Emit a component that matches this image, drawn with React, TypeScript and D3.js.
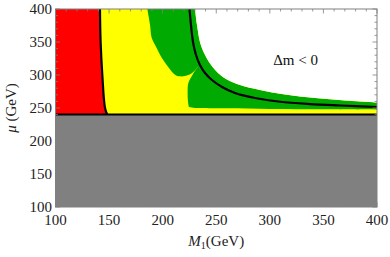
import * as d3 from 'd3'

// axis ticks
const X_TICKS = [100, 150, 200, 250, 300, 350, 400]
const Y_TICKS = [100, 150, 200, 250, 300, 350, 400]
const MINOR = d3.range(100, 401, 10)

// excluded region below this mu
const MU_CUT = 240

// left contour (red | yellow), [M1, mu]
const LEFT_CURVE: [number, number][] = [
  [141.5, 400], [142.1, 350], [143.7, 300], [146.2, 250], [148.3, 240],
]

// right contour
const RIGHT_CURVE: [number, number][] = [
  [225, 400], [226.4, 376], [228.3, 350], [231.1, 330.3], [234.8, 315.2],
  [239.5, 303], [246, 292.4], [255.4, 281.8], [267.5, 272.7], [286.2, 265.2],
  [309.5, 259.5], [337.5, 256], [365.5, 253.8], [400, 251.5],
]

// yellow / green edge of the middle blob, top down to the wedge tip
const BLOB_EDGE: [number, number][] = [
  [185.7, 400], [188.2, 376], [189.8, 356], [194.4, 341], [199.1, 326],
  [205, 312.6], [211.5, 300.5], [216, 298], [220.8, 298.5], [227.1, 302.6],
  [231.5, 310], [233.2, 313.5],
]

// left edge of the lower green band, from the wedge tip down
const LOWER_EDGE: [number, number][] = [
  [233.2, 313.5], [227.1, 298], [223.9, 287.4], [223.3, 272.3],
  [223.6, 260], [224.5, 251.5],
]

// bottom of the green band
const GREEN_BOTTOM: [number, number][] = [
  [230, 250], [260, 249.5], [300, 248.5], [350, 248], [400, 247.5],
]

// green / white edge (Δm < 0 above)
const WHITE_EDGE: [number, number][] = [
  [230.2, 400], [232, 376], [234.8, 350], [238.6, 333.3], [243.2, 319.7],
  [249.8, 306.1], [259.1, 294], [272.2, 284.8], [290.8, 277.3], [314.2, 270.5],
  [342.2, 265.2], [370.1, 261.4], [400, 258.3],
]

const W = 390
const H = 257
const M = { left: 55.5, right: 377, top: 9, bottom: 207 }

export default function App() {
  const x = d3.scaleLinear().domain([100, 400]).range([M.left, M.right])
  const y = d3.scaleLinear().domain([100, 400]).range([M.bottom, M.top])
  const line = d3.line<[number, number]>().x(d => x(d[0])).y(d => y(d[1]))
  const smooth = d3.line<[number, number]>().x(d => x(d[0])).y(d => y(d[1])).curve(d3.curveCatmullRom)

  // join smooth edges into one closed outline
  const outline = (...parts: [number, number][][]) =>
    parts.map((p, i) => (p.length > 2 ? smooth(p)! : line(p)!).replace(/^M/, i ? 'L' : 'M')).join('') + 'Z'

  const redPath = outline([[100, MU_CUT], [100, 400]], LEFT_CURVE)
  const greenPath = outline(BLOB_EDGE, LOWER_EDGE, GREEN_BOTTOM, WHITE_EDGE.slice().reverse())
  const whitePath = outline(WHITE_EDGE, [[400, 400]])

  const serif = '"Liberation Serif", "DejaVu Serif", serif'
  const frame = '#808080'
  const pw = M.right - M.left
  const ph = M.bottom - M.top

  return (
    <svg width={W} height={H} style={{ position: 'absolute', left: 0, top: 0 }} fontFamily={serif}>
      <defs>
        <clipPath id="plot">
          <rect x={M.left} y={M.top} width={pw} height={ph} />
        </clipPath>
      </defs>
      <g clipPath="url(#plot)">
        <rect x={x(100)} y={y(400)} width={pw} height={y(MU_CUT) - y(400)} fill="#ffff00" />
        <path d={redPath} fill="#ff0000" />
        <path d={greenPath} fill="#00aa00" />
        <path d={whitePath} fill="#ffffff" />
        <path d={smooth(LEFT_CURVE)!} fill="none" stroke="#000" strokeWidth={2.2} />
        <path d={smooth(RIGHT_CURVE)!} fill="none" stroke="#000" strokeWidth={2.2} />
        <rect x={x(100)} y={y(MU_CUT)} width={pw} height={y(100) - y(MU_CUT)} fill="#808080" />
        <line x1={x(100)} x2={x(400)} y1={y(MU_CUT)} y2={y(MU_CUT)} stroke="#000" strokeWidth={2} />
      </g>

      {/* frame and ticks */}
      <rect x={M.left} y={M.top} width={pw} height={ph} fill="none" stroke={frame} strokeWidth={1} />
      {MINOR.map(v => {
        const len = v % 50 === 0 ? 4.5 : 2.5
        return (
          <g key={v} stroke={frame} strokeWidth={0.8}>
            <line x1={x(v)} x2={x(v)} y1={M.bottom} y2={M.bottom - len} />
            <line x1={x(v)} x2={x(v)} y1={M.top} y2={M.top + len} />
            <line x1={M.left} x2={M.left + len} y1={y(v)} y2={y(v)} />
            <line x1={M.right} x2={M.right - len} y1={y(v)} y2={y(v)} />
          </g>
        )
      })}
      {X_TICKS.map(v => (
        <text key={v} x={x(v)} y={225} textAnchor="middle" fontSize={15} fill="#222">{v}</text>
      ))}
      {Y_TICKS.map(v => (
        <text key={v} x={M.left - 3.5} y={y(v) + 5} textAnchor="end" fontSize={15} fill="#222">{v}</text>
      ))}

      <text x={(M.left + M.right) / 2} y={246} textAnchor="middle" fontSize={15} fill="#222">
        <tspan fontStyle="italic">M</tspan>
        <tspan fontSize={10} dy={3}>1</tspan>
        <tspan dy={-3}>(GeV)</tspan>
      </text>
      <text transform={`translate(16,${(M.top + M.bottom) / 2}) rotate(-90)`} textAnchor="middle" fontSize={15} fill="#222">
        <tspan fontStyle="italic">μ</tspan> (GeV)
      </text>
      <text x={x(324)} y={y(322) + 5} textAnchor="middle" fontSize={15} fill="#111">Δm &lt; 0</text>
    </svg>
  )
}
